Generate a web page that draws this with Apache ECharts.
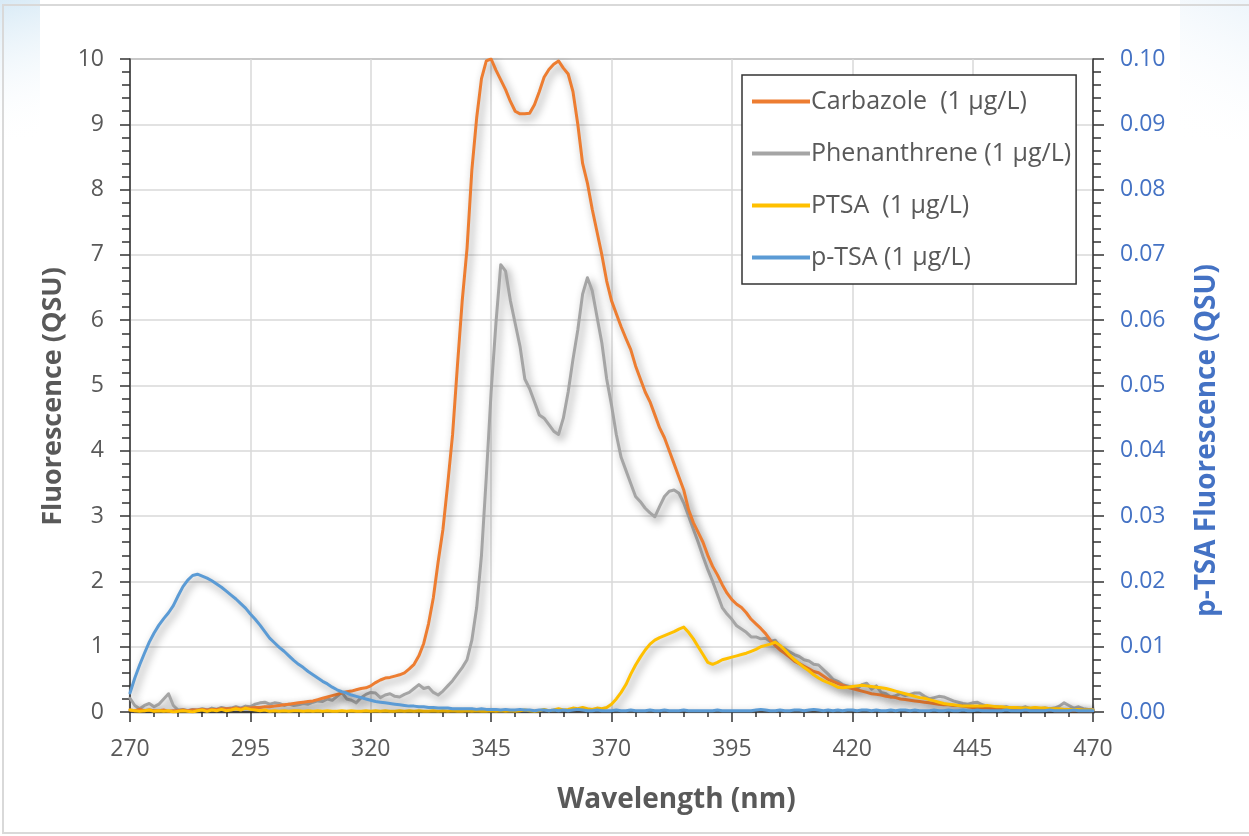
<!DOCTYPE html>
<html>
<head>
<meta charset="utf-8">
<script src="https://cdn.jsdelivr.net/npm/echarts@6/dist/echarts.min.js"></script>
<style>
html,body{margin:0;padding:0;background:#fff;}
#chart{width:1249px;height:836px;}
</style>
</head>
<body>
<div id="chart"></div>
<script>
// Wavelength sampling grid (nm), 1 nm step from 270 to 470
const wavelengths = Array.from({length: 201}, (_, i) => 270 + i);
const xTicks = [270, 295, 320, 345, 370, 395, 420, 445, 470];
const seriesNames = ['Carbazole  (1 µg/L)', 'Phenanthrene (1 µg/L)', 'PTSA  (1 µg/L)', 'p-TSA (1 µg/L)'];

const carbazole = [
0.03,0.02,0.04,0.02,0.03,0.02,0.02,0.03,0.01,0.02,
0.02,0.03,0.02,0.03,0.03,0.04,0.03,0.04,0.04,0.05,
0.05,0.05,0.06,0.05,0.06,0.06,0.07,0.07,0.08,0.08,
0.09,0.10,0.11,0.12,0.13,0.14,0.15,0.16,0.17,0.19,
0.21,0.23,0.25,0.27,0.29,0.31,0.32,0.34,0.36,0.37,
0.40,0.45,0.49,0.52,0.53,0.55,0.57,0.60,0.66,0.73,
0.86,1.05,1.35,1.75,2.30,2.80,3.50,4.25,5.30,6.30,
7.10,8.30,9.10,9.70,9.97,10.0,9.83,9.68,9.53,9.35,
9.20,9.16,9.16,9.17,9.30,9.50,9.72,9.84,9.92,9.97,
9.86,9.77,9.50,9.00,8.40,8.10,7.70,7.35,7.00,6.60,
6.30,6.10,5.90,5.72,5.55,5.30,5.10,4.90,4.75,4.55,
4.35,4.20,4.00,3.80,3.60,3.40,3.10,2.90,2.75,2.60,
2.40,2.23,2.10,1.95,1.82,1.72,1.65,1.60,1.52,1.42,
1.35,1.28,1.20,1.10,1.02,0.95,0.90,0.84,0.78,0.74,
0.70,0.66,0.62,0.60,0.55,0.50,0.47,0.44,0.41,0.38,
0.36,0.34,0.32,0.30,0.28,0.27,0.26,0.24,0.23,0.22,
0.20,0.19,0.18,0.17,0.16,0.15,0.14,0.13,0.12,0.11,
0.11,0.10,0.10,0.09,0.08,0.07,0.07,0.06,0.06,0.05,
0.05,0.05,0.04,0.04,0.04,0.04,0.03,0.03,0.03,0.03,
0.03,0.03,0.02,0.02,0.02,0.02,0.02,0.02,0.02,0.02,0.02];

const phenanthrene = [
0.21,0.10,0.05,0.10,0.13,0.08,0.12,0.20,0.28,0.10,
0.03,0.04,0.02,0.04,0.03,0.05,0.03,0.06,0.04,0.07,
0.05,0.06,0.08,0.06,0.09,0.08,0.12,0.14,0.15,0.12,
0.14,0.13,0.10,0.12,0.10,0.11,0.13,0.12,0.15,0.17,
0.16,0.20,0.18,0.24,0.30,0.20,0.18,0.14,0.22,0.27,
0.30,0.29,0.22,0.26,0.28,0.24,0.23,0.27,0.30,0.36,
0.42,0.36,0.38,0.30,0.26,0.32,0.40,0.48,0.58,0.68,
0.80,1.10,1.60,2.40,3.60,4.90,5.95,6.85,6.75,6.30,
5.95,5.60,5.10,4.95,4.75,4.55,4.50,4.40,4.30,4.25,
4.50,4.90,5.40,5.85,6.40,6.65,6.45,6.05,5.65,5.10,
4.70,4.25,3.90,3.70,3.50,3.30,3.22,3.12,3.05,2.99,
3.15,3.30,3.38,3.40,3.35,3.20,3.00,2.80,2.60,2.38,
2.18,2.00,1.80,1.60,1.50,1.42,1.32,1.27,1.22,1.15,
1.15,1.12,1.13,1.08,1.10,1.00,0.97,0.92,0.88,0.85,
0.80,0.78,0.73,0.72,0.65,0.58,0.50,0.47,0.42,0.40,
0.38,0.36,0.42,0.44,0.35,0.40,0.30,0.28,0.23,0.25,
0.28,0.25,0.27,0.29,0.29,0.24,0.20,0.22,0.24,0.23,
0.20,0.17,0.15,0.13,0.12,0.14,0.15,0.11,0.09,0.08,
0.08,0.07,0.08,0.06,0.07,0.06,0.08,0.05,0.06,0.05,
0.06,0.05,0.06,0.09,0.14,0.10,0.06,0.08,0.05,0.04,0.04];

const ptsa = [
0.03,0.02,0.01,0.02,0.03,0.01,0.02,0.01,0.02,0.00,
0.01,0.02,0.01,0.00,0.02,0.03,0.01,0.03,0.02,0.04,
0.02,0.03,0.05,0.03,0.06,0.04,0.03,0.02,0.03,0.01,
0.02,0.01,0.02,0.01,0.02,0.02,0.01,0.02,0.01,0.02,
0.01,0.02,0.01,0.01,0.02,0.01,0.02,0.01,0.01,0.02,
0.01,0.02,0.01,0.02,0.01,0.01,0.02,0.01,0.02,0.01,
0.02,0.01,0.01,0.02,0.01,0.02,0.01,0.02,0.01,0.01,
0.02,0.01,0.02,0.01,0.01,0.02,0.01,0.02,0.01,0.02,
0.01,0.02,0.03,0.02,0.01,0.02,0.04,0.02,0.03,0.05,
0.03,0.04,0.06,0.05,0.07,0.05,0.04,0.06,0.05,0.07,
0.12,0.20,0.30,0.42,0.58,0.72,0.84,0.95,1.04,1.10,
1.14,1.17,1.20,1.23,1.27,1.30,1.22,1.12,1.00,0.88,
0.76,0.73,0.76,0.80,0.82,0.84,0.86,0.88,0.90,0.93,
0.96,1.00,1.02,1.04,1.07,1.02,0.95,0.87,0.80,0.74,
0.68,0.63,0.57,0.52,0.48,0.45,0.42,0.38,0.37,0.38,
0.39,0.40,0.41,0.40,0.39,0.38,0.37,0.36,0.34,0.32,
0.30,0.28,0.26,0.24,0.22,0.21,0.19,0.17,0.15,0.13,
0.12,0.11,0.10,0.09,0.09,0.09,0.09,0.09,0.10,0.09,
0.08,0.08,0.07,0.07,0.07,0.06,0.06,0.06,0.07,0.06,
0.06,0.05,0.05,0.05,0.04,0.04,0.04,0.04,0.03,0.03,0.03];

// p-TSA on the secondary (right) axis
const pTsa = [
0.0029,0.0052,0.0072,0.0090,0.0107,0.0121,0.0133,0.0143,0.0152,0.0163,
0.0178,0.0192,0.0202,0.0209,0.0211,0.0208,0.0205,0.0201,0.0196,0.0191,
0.0185,0.0179,0.0173,0.0166,0.0159,0.0150,0.0142,0.0133,0.0123,0.0113,
0.0106,0.0099,0.0093,0.0086,0.0079,0.0073,0.0068,0.0062,0.0057,0.0052,
0.0047,0.0043,0.0038,0.0034,0.0031,0.0029,0.0026,0.0024,0.0022,0.0020,
0.0018,0.0016,0.0015,0.0014,0.0013,0.0012,0.0011,0.0010,0.0009,0.0009,
0.0008,0.0008,0.0007,0.0007,0.0006,0.0006,0.0006,0.0005,0.0005,0.0005,
0.0005,0.0005,0.0004,0.0005,0.0004,0.0004,0.0004,0.0003,0.0004,0.0003,
0.0003,0.0004,0.0003,0.0003,0.0002,0.0003,0.0003,0.0002,0.0003,0.0002,
0.0003,0.0002,0.0003,0.0004,0.0003,0.0002,0.0002,0.0003,0.0002,0.0002,
0.0002,0.0003,0.0002,0.0002,0.0003,0.0002,0.0002,0.0002,0.0003,0.0002,
0.0002,0.0003,0.0002,0.0002,0.0002,0.0003,0.0002,0.0002,0.0002,0.0002,
0.0002,0.0002,0.0003,0.0002,0.0002,0.0002,0.0002,0.0002,0.0002,0.0002,
0.0003,0.0004,0.0003,0.0002,0.0002,0.0003,0.0002,0.0002,0.0003,0.0003,
0.0002,0.0003,0.0004,0.0003,0.0002,0.0003,0.0002,0.0003,0.0002,0.0003,
0.0003,0.0002,0.0003,0.0003,0.0002,0.0003,0.0002,0.0002,0.0003,0.0002,
0.0003,0.0003,0.0002,0.0003,0.0002,0.0002,0.0002,0.0003,0.0002,0.0002,
0.0003,0.0002,0.0002,0.0003,0.0002,0.0002,0.0003,0.0002,0.0002,0.0002,
0.0002,0.0002,0.0003,0.0002,0.0002,0.0002,0.0003,0.0002,0.0002,0.0002,
0.0002,0.0003,0.0002,0.0002,0.0002,0.0002,0.0003,0.0002,0.0002,0.0002,0.0002];

const colors = ['#ED7D31', '#A5A5A5', '#FFC000', '#5B9BD5'];
const FONT = '"Open Sans", "Noto Sans", sans-serif';
const GREY = '#595959';
const BLUE = '#4472C4';

function pairs(arr) { return wavelengths.map((w, i) => [w, arr[i]]); }

const shadow = {shadowColor: 'rgba(0,0,0,0.45)', shadowBlur: 8, shadowOffsetX: 3, shadowOffsetY: 4};

function mkSeries(name, data, color, yIdx, z) {
  return {
    name: name, type: 'line', data: pairs(data), yAxisIndex: yIdx,
    showSymbol: false, symbol: 'none', z: z, animation: false,
    lineStyle: Object.assign({color: color, width: 3, join: 'round', cap: 'round'}, shadow),
    itemStyle: {color: color}
  };
}

const chart = echarts.init(document.getElementById('chart'), null, {renderer: 'canvas'});
chart.setOption({
  backgroundColor: '#ffffff',
  animation: false,
  textStyle: {fontFamily: FONT},
  graphic: [
    {type: 'rect', shape: {x: 0, y: 0, width: 40, height: 140}, z: -20,
     style: {fill: new echarts.graphic.LinearGradient(0, 0, 1, 1, [
       {offset: 0, color: 'rgba(190,220,240,0.6)'}, {offset: 1, color: 'rgba(255,255,255,0)'}])}},
    {type: 'rect', shape: {x: 1180, y: 0, width: 69, height: 140}, z: -20,
     style: {fill: new echarts.graphic.LinearGradient(1, 0, 0, 1, [
       {offset: 0, color: 'rgba(220,235,247,0.5)'}, {offset: 1, color: 'rgba(255,255,255,0)'}])}},
    {type: 'rect', shape: {x: 3, y: 5, width: 1260, height: 828}, style: {fill: 'none', stroke: '#d9d9d9', lineWidth: 2}, z: -10}
  ],
  grid: {left: 130, right: 156, top: 59, bottom: 124, show: true, borderColor: '#333', borderWidth: 1},
  legend: {
    orient: 'vertical', left: 742, top: 75,
    data: seriesNames,
    icon: 'rect', itemWidth: 58, itemHeight: 4, itemGap: 27,
    padding: [14, 5, 14, 10],
    borderColor: '#333', borderWidth: 1.5, backgroundColor: '#fff',
    textStyle: {color: GREY, fontSize: 25, fontFamily: FONT, padding: [0, 0, 0, -4]}
  },
  xAxis: {
    type: 'value', min: 270, max: 470, interval: 25,
    name: 'Wavelength (nm)', nameLocation: 'middle', nameGap: 74,
    nameTextStyle: {color: GREY, fontSize: 28, fontWeight: 'bold', fontFamily: FONT, padding: [0, 0, 0, 130]},
    axisLine: {show: true, lineStyle: {color: '#333', width: 1.5}},
    axisTick: {show: true, inside: false, length: 10, lineStyle: {color: '#333', width: 1.5}},
    minorTick: {show: true, splitNumber: 5, length: 5, lineStyle: {color: '#333', width: 1.5}},
    axisLabel: {color: GREY, fontSize: 23, margin: 26, fontFamily: FONT},
    splitLine: {show: true, lineStyle: {color: '#d9d9d9', width: 1.5}}
  },
  yAxis: [
    {
      type: 'value', min: 0, max: 10, interval: 1, position: 'left',
      name: 'Fluorescence (QSU)', nameLocation: 'middle', nameGap: 60, nameRotate: 90,
      nameTextStyle: {color: GREY, fontSize: 27, fontWeight: 'bold', fontFamily: FONT, padding: [0, 22, 0, 0]},
      axisLine: {show: true, lineStyle: {color: '#333', width: 1.5}},
      axisTick: {show: true, inside: false, length: 10, lineStyle: {color: '#333', width: 1.5}},
      minorTick: {show: true, splitNumber: 5, length: 8, lineStyle: {color: '#333', width: 1.5}},
      axisLabel: {color: GREY, fontSize: 23, margin: 26, fontFamily: FONT},
      splitLine: {show: true, lineStyle: {color: '#d9d9d9', width: 1.5}}
    },
    {
      type: 'value', min: 0, max: 0.1, interval: 0.01, position: 'right',
      name: 'p-TSA Fluorescence (QSU)', nameLocation: 'middle', nameGap: 100, nameRotate: 90,
      nameTextStyle: {color: BLUE, fontSize: 28, fontWeight: 'bold', fontFamily: FONT, padding: [0, 110, 0, 0]},
      axisLine: {show: true, lineStyle: {color: '#333', width: 1.5}},
      axisTick: {show: true, inside: false, length: 11, lineStyle: {color: '#333', width: 1.5}},
      minorTick: {show: true, splitNumber: 5, length: 8, lineStyle: {color: '#333', width: 1.5}},
      axisLabel: {color: BLUE, fontSize: 23, margin: 27, fontFamily: FONT, formatter: v => v.toFixed(2)},
      splitLine: {show: false}
    }
  ],
  series: [
    mkSeries(seriesNames[0], carbazole, colors[0], 0, 4),
    mkSeries(seriesNames[1], phenanthrene, colors[1], 0, 3),
    mkSeries(seriesNames[2], ptsa, colors[2], 0, 5),
    mkSeries(seriesNames[3], pTsa, colors[3], 1, 6)
  ]
});
</script>
</body>
</html>
